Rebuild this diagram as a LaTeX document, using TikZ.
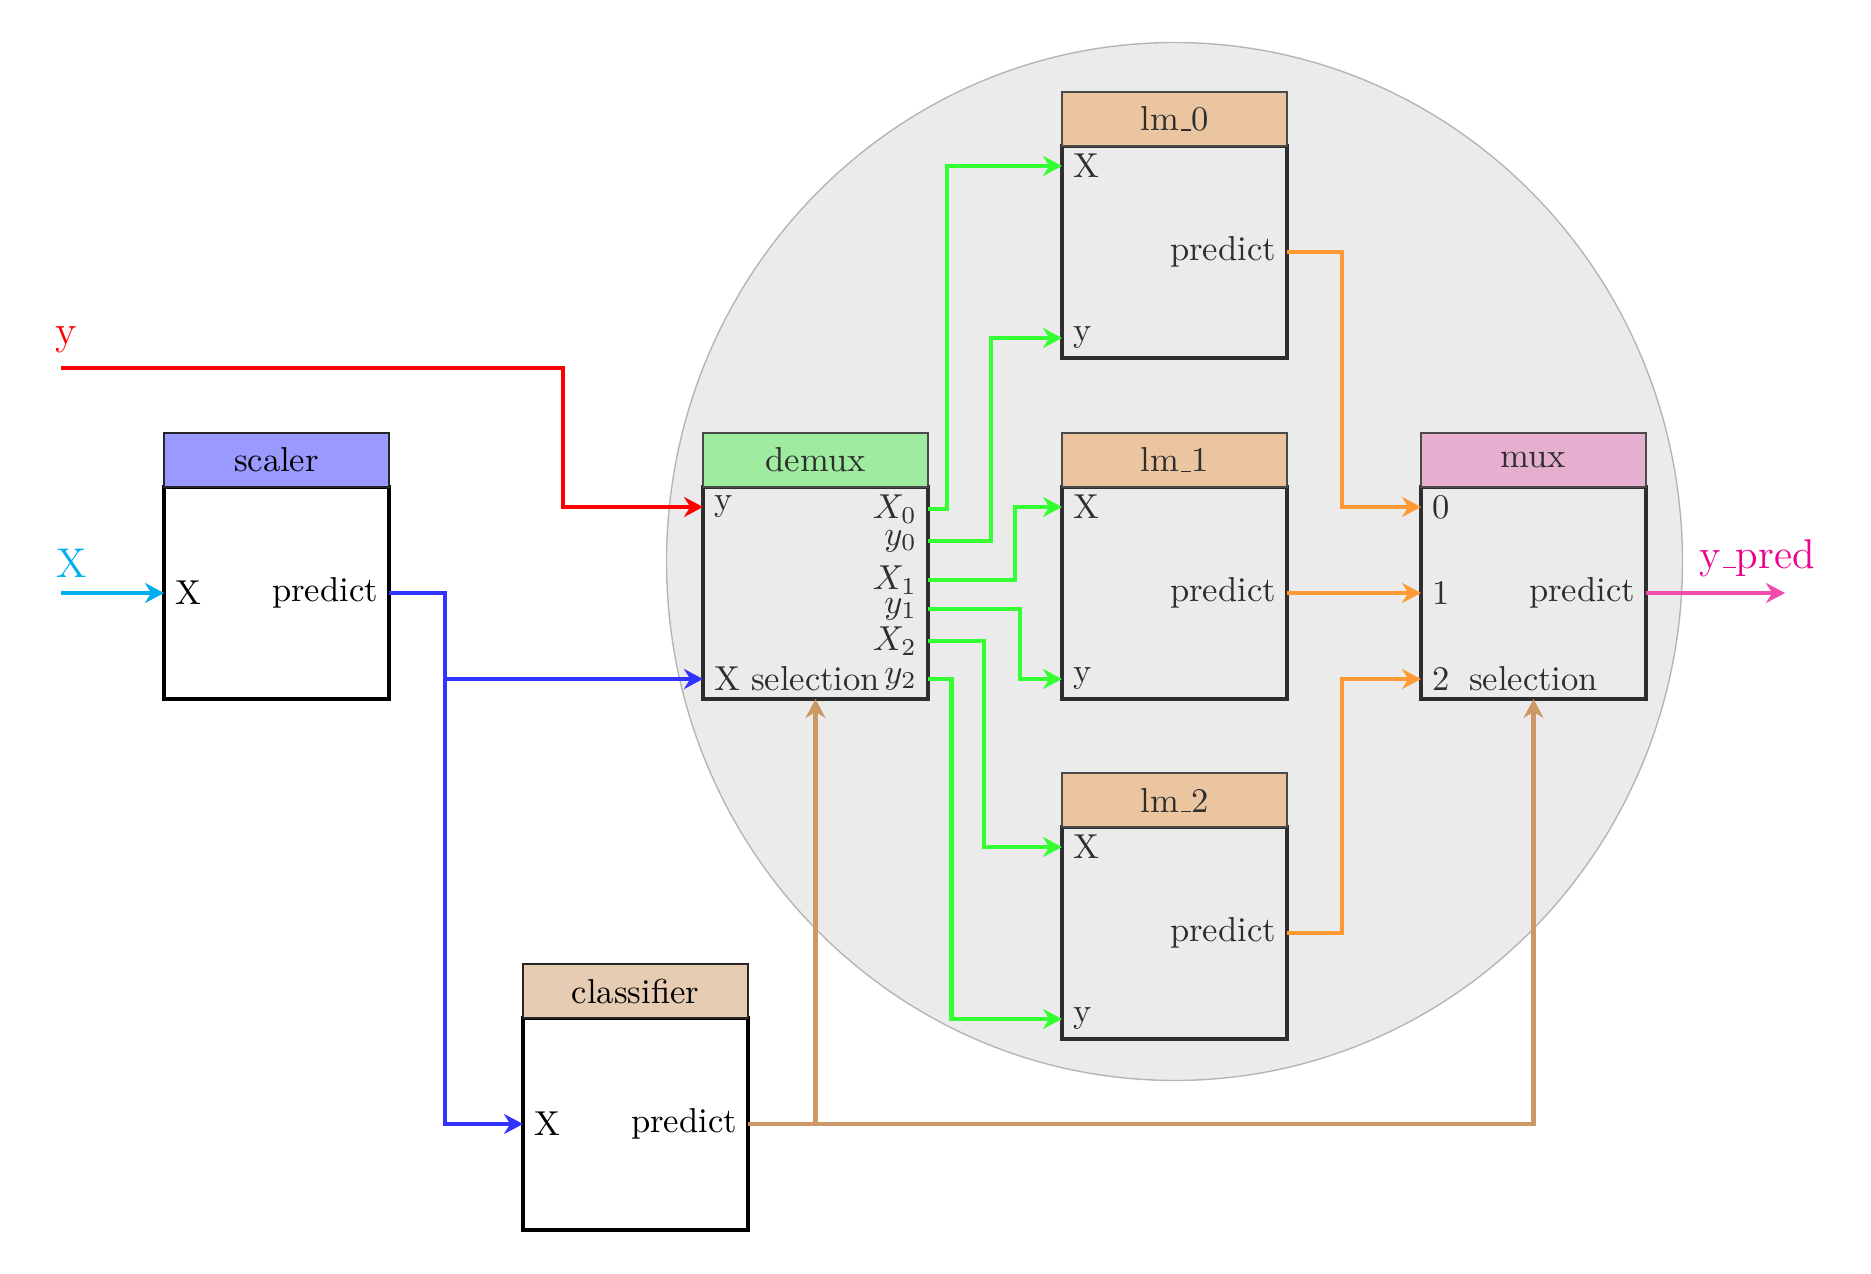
\documentclass[tikz,border=0pt]{standalone}
\usetikzlibrary{arrows.meta,calc}

\definecolor{incyan}{HTML}{00AEEF}
\definecolor{outmagenta}{HTML}{EC008C}

% short, low underscore rule as in classic LaTeX fonts
\newcommand\usc{\leavevmode\kern.06em\vbox{\hrule width.3em}}

\tikzset{
  modbody/.style={draw=black, line width=0.9pt, fill=white, outer sep=0pt,
    minimum width=65.03pt, minimum height=61.27pt, inner sep=0pt},
  modhead/.style={draw=black!85, line width=0.5pt, outer sep=0pt,
    minimum width=65.03pt, minimum height=15.61pt, inner sep=0pt},
  portin/.style={anchor=west, inner sep=3pt},
  portout/.style={anchor=east, inner sep=3pt},
  wire/.style={line width=1.2pt,
    -{Stealth[length=5.5pt, width=5.8pt, inset=1.8pt]}},
  iolabel/.style={font=\large, anchor=base},
}

% #1 name, #2 title-bar colour, #3 title, #4 left edge, #5 top edge (of the title bar)
\newcommand\pipemodule[5]{%
  \node[modbody] (#1) at (#4+112.5, #5+160) {};
  \node[modhead, fill=#2, anchor=south] (#1-head) at (#1.north) {#3};
  \coordinate (#1-in1) at ($(#1.north west)+(0,20)$);
  \coordinate (#1-in2) at (#1.west);
  \coordinate (#1-in3) at ($(#1.south west)+(0,-20)$);
  \coordinate (#1-out) at (#1.east);
}

\begin{document}
\begin{tikzpicture}[x=0.289pt, y=-0.289pt]
\useasboundingbox (0,0) rectangle (1871,1274);

% pipeline steps
\pipemodule{scaler}{blue!40}{scaler}{164}{433}
\pipemodule{clf}{brown!40}{classifier}{523}{964}
\pipemodule{demux}{green!40}{demux}{703}{433}
\pipemodule{lm0}{orange!40}{lm\usc 0}{1062}{92}
\pipemodule{lm1}{orange!40}{lm\usc 1}{1062}{433}
\pipemodule{lm2}{orange!40}{lm\usc 2}{1062}{773}
\pipemodule{mux}{outmagenta!32}{mux}{1421}{433}

% extra outputs of the demultiplexer
\coordinate (demux-o1) at ($(demux.north east)+(0,22)$);
\coordinate (demux-o2) at ($(demux.north east)+(0,54)$);
\coordinate (demux-o3) at ($(demux.north east)+(0,93)$);
\coordinate (demux-o4) at ($(demux.north east)+(0,122)$);
\coordinate (demux-o5) at ($(demux.north east)+(0,154)$);
\coordinate (demux-o6) at ($(demux.north east)+(0,192)$);

% port labels
\node[portin] at (scaler-in2) {X};
\node[portout] at (scaler-out) {predict};
\node[portin] at (clf-in2) {X};
\node[portout] at (clf-out) {predict};

\node[portin] at (demux-in1) {y};
\node[portin] at (demux-in3) {X};
\node at (demux.south |- demux-in3) {selection};
\node[portout] at (demux-o1) {$X_0$};
\node[portout] at (demux-o2) {$y_0$};
\node[portout] at (demux-o3) {$X_1$};
\node[portout] at (demux-o4) {$y_1$};
\node[portout] at (demux-o5) {$X_2$};
\node[portout] at (demux-o6) {$y_2$};

\foreach \m in {lm0,lm1,lm2}{
  \node[portin] at (\m-in1) {X};
  \node[portin] at (\m-in3) {y};
  \node[portout] at (\m-out) {predict};
}

\node[portin] at (mux-in1) {0};
\node[portin] at (mux-in2) {1};
\node[portin] at (mux-in3) {2};
\node at (mux.south |- mux-in3) {selection};
\node[portout] at (mux-out) {predict};

% translucent disc grouping the conditional part
\path[fill=black!30, draw=black, line width=0.4pt, opacity=0.26]
  (1174.5,561.5) ellipse [x radius=508, y radius=519];

% inputs and output
\coordinate (yin) at (61,368);
\coordinate (xin) at (61,593);
\coordinate (ypred) at (1785,593);
\node[iolabel, text=red] (ylabel) at (66,345) {y};
\node[iolabel, text=incyan] (xlabel) at (71.5,577) {X};
\node[iolabel, text=outmagenta] (ypredlabel) at (1757,568) {y\usc pred};

% connections
\draw[wire, incyan] (xin) -- (scaler-in2);
\draw[wire, red] (yin) -| ($(demux-in1)+(-140,0)$) -- (demux-in1);

\draw[wire, blue!80] (scaler-out) -- ++(56,0) |- (clf-in2);
\path (scaler-out) ++(56,0) coordinate (bx);
\draw[wire, blue!80] (bx |- demux-in3) -- (demux-in3);

\draw[wire, brown!80] (clf-out) -| (demux.south);
\draw[wire, brown!80] (clf-out) -| (mux.south);

\draw[wire, green!80] (demux-o1) -- ++(18.6,0) |- (lm0-in1);
\draw[wire, green!80] (demux-o2) -- ++(62.8,0) |- (lm0-in3);
\draw[wire, green!80] (demux-o3) -- ++(87.3,0) |- (lm1-in1);
\draw[wire, green!80] (demux-o4) -- ++(92.2,0) |- (lm1-in3);
\draw[wire, green!80] (demux-o5) -- ++(56.4,0) |- (lm2-in1);
\draw[wire, green!80] (demux-o6) -- ++(23.5,0) |- (lm2-in3);

\draw[wire, orange!80] (lm0-out) -- ++(55.2,0) |- (mux-in1);
\draw[wire, orange!80] (lm1-out) -- (mux-in2);
\draw[wire, orange!80] (lm2-out) -- ++(55.2,0) |- (mux-in3);

\draw[wire, outmagenta!70] (mux-out) -- (ypred);
\end{tikzpicture}
\end{document}
